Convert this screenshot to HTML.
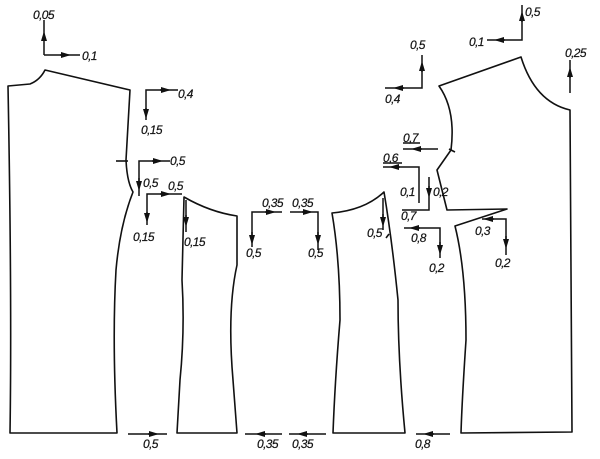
<!DOCTYPE html>
<html><head><style>
html,body{margin:0;padding:0;background:#fff;}
svg{display:block}
text{font-family:"Liberation Sans",sans-serif;font-style:italic;font-size:12px;fill:#111;letter-spacing:-0.6px;stroke:#111;stroke-width:0.2px}
</style></head><body>
<svg width="600" height="459" viewBox="0 0 600 459" xmlns="http://www.w3.org/2000/svg">
<defs>
<marker id="a" viewBox="0 0 10 6" refX="5" refY="3" markerWidth="8" markerHeight="4" orient="auto-start-reverse"><path d="M0,0 L10,3 L0,6 z" fill="#111"/></marker>
</defs>
<g fill="none" stroke="#111" stroke-width="1.6" stroke-linejoin="round">
<path d="M8,86 L30,84 Q40,80 45,70 L130,90 L126,160 Q127,182 133,192 Q120,225 116,270 Q112,340 117,433 L10,433 Q12,300 8,86 Z"/>
<path d="M116,161 L128,161"/>
<path d="M184,197 Q210,212 237,216 L237,265 Q227,310 233,380 L237,433 L177,433 L180,380 Q185,330 182,280 Z"/>
<path d="M332,213 Q365,210 384,192 Q392,240 398,300 Q398,360 405,433 L333,433 Q335,380 340,320 Q340,260 332,213 Z"/>
<path d="M389,234 L386,238"/>
<path d="M439,86 L521,57 Q535,102 570,110 L572,432 L461,433 Q462,400 466,340 Q466,270 455,226 L507,209 L447,210 L437,170 Q444,160 451,150 Q456,110 439,86 Z"/>
<path d="M449,149 L455,152"/>
</g>
<g fill="none" stroke="#111" stroke-width="1.5">
<path d="M44,55 L44,20"/><path d="M44,55 L80,55"/>
<path d="M44,40 L44,36" marker-end="url(#a)"/><path d="M60,55 L66,55" marker-end="url(#a)"/>
<path d="M146,120 L146,90 L178,90"/><path d="M160,90 L166,90" marker-end="url(#a)"/><path d="M146,108 L146,114" marker-end="url(#a)"/>
<path d="M139,196 L139,161 L170,161"/><path d="M152,161 L158,161" marker-end="url(#a)"/><path d="M139,178 L139,186" marker-end="url(#a)"/>
<path d="M147,225 L147,194 L182,194"/><path d="M160,194 L166,194" marker-end="url(#a)"/><path d="M147,212 L147,218" marker-end="url(#a)"/>
<path d="M186,200 L186,232"/><path d="M186,215 L186,222" marker-end="url(#a)"/>
<path d="M252,247 L252,212 L282,212"/><path d="M265,212 L271,212" marker-end="url(#a)"/><path d="M252,232 L252,240" marker-end="url(#a)"/>
<path d="M290,212 L318,212 L318,250"/><path d="M302,212 L308,212" marker-end="url(#a)"/><path d="M318,232 L318,240" marker-end="url(#a)"/>
<path d="M383,198 L383,230"/><path d="M383,214 L383,222" marker-end="url(#a)"/>
<path d="M385,88 L422,88 L422,55"/><path d="M404,88 L398,88" marker-end="url(#a)"/><path d="M422,72 L422,66" marker-end="url(#a)"/>
<path d="M487,40 L522,40 L522,5"/><path d="M505,40 L499,40" marker-end="url(#a)"/><path d="M522,22 L522,16" marker-end="url(#a)"/>
<path d="M570,93 L570,60"/><path d="M570,78 L570,72" marker-end="url(#a)"/>
<path d="M403,149 L438,149"/><path d="M422,149 L416,149" marker-end="url(#a)"/>
<path d="M383,167 L419,167 L419,203"/><path d="M400,167 L394,167" marker-end="url(#a)"/>
<path d="M429,177 L429,210 L402,210"/><path d="M429,186 L429,193" marker-end="url(#a)"/>
<path d="M404,228 L440,228 L440,258"/><path d="M420,228 L414,228" marker-end="url(#a)"/><path d="M440,242 L440,250" marker-end="url(#a)"/>
<path d="M482,219 L506,219 L506,255"/><path d="M494,219 L488,219" marker-end="url(#a)"/><path d="M506,236 L506,244" marker-end="url(#a)"/>
<path d="M128,434 L167,434"/><path d="M148,434 L154,434" marker-end="url(#a)"/>
<path d="M245,434 L282,434"/><path d="M266,434 L260,434" marker-end="url(#a)"/>
<path d="M289,434 L326,434"/><path d="M308,434 L302,434" marker-end="url(#a)"/>
<path d="M416,434 L450,434"/><path d="M434,434 L428,434" marker-end="url(#a)"/>
<path d="M403,143 L420,143"/><path d="M383,163 L402,163"/>
</g>
<g>
<text x="33" y="19">0,05</text><text x="82" y="60">0,1</text>
<text x="178" y="98">0,4</text><text x="141" y="134">0,15</text>
<text x="170" y="165">0,5</text><text x="143" y="187">0,5</text>
<text x="168" y="190">0,5</text><text x="133" y="241">0,15</text>
<text x="184" y="246">0,15</text>
<text x="262" y="207">0,35</text><text x="292" y="207">0,35</text>
<text x="246" y="257">0,5</text><text x="308" y="257">0,5</text>
<text x="367" y="237">0,5</text>
<text x="410" y="49">0,5</text><text x="385" y="103">0,4</text>
<text x="469" y="46">0,1</text><text x="525" y="16">0,5</text>
<text x="565" y="57">0,25</text>
<text x="403" y="142">0,7</text><text x="383" y="162">0,6</text>
<text x="400" y="196">0,1</text><text x="433" y="196">0,2</text>
<text x="401" y="220">0,7</text><text x="411" y="242">0,8</text>
<text x="429" y="272">0,2</text>
<text x="475" y="235">0,3</text><text x="495" y="267">0,2</text>
<text x="143" y="448">0,5</text><text x="257" y="448">0,35</text><text x="292" y="448">0,35</text><text x="415" y="448">0,8</text>
</g>
</svg>
</body></html>
